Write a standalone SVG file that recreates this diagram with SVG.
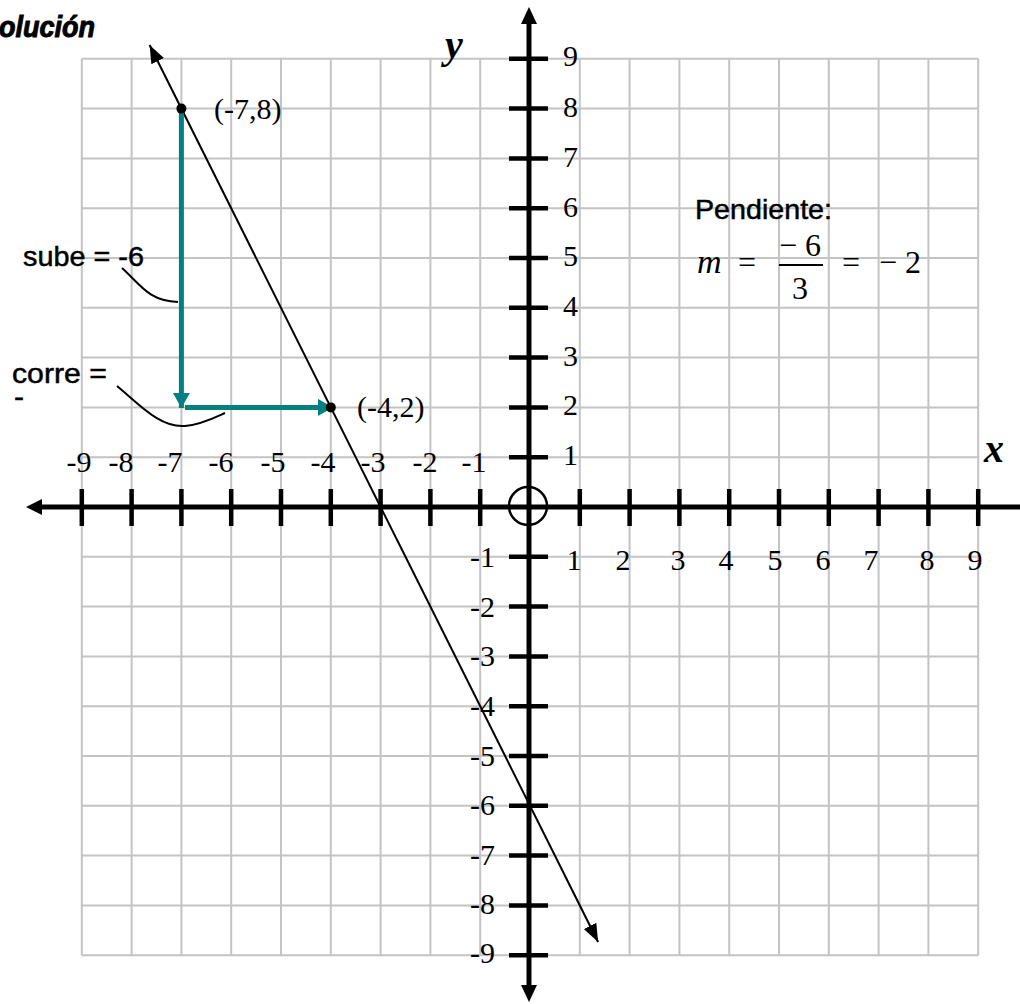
<svg xmlns="http://www.w3.org/2000/svg" width="1020" height="1004" viewBox="0 0 1020 1004">
<style>
.grid{stroke:#c4c4c4;stroke-width:2;fill:none}
.axis{stroke:#000;stroke-width:5;fill:none}
.tick{stroke:#000;stroke-width:4.5}
.num{font-family:"Liberation Serif",serif;font-size:30px;fill:#000}
.lbl{font-family:"Liberation Sans","DejaVu Sans",sans-serif;font-size:28px;fill:#000;stroke:#000;stroke-width:0.5}
.teal{stroke:#008080;stroke-width:5;fill:none}
.thin{stroke:#000;stroke-width:2;fill:none}
</style>
<defs>
<marker id="ab" markerUnits="userSpaceOnUse" markerWidth="20" markerHeight="16" refX="18" refY="7" orient="auto-start-reverse" viewBox="0 0 20 16">
<path d="M0,0 L18,7 L0,14 z" fill="#000"/>
</marker>
<marker id="at" markerUnits="userSpaceOnUse" markerWidth="18" markerHeight="18" refX="15" refY="8.5" orient="auto" viewBox="0 0 18 18">
<path d="M0,0 L15,8.5 L0,17 z" fill="#008080"/>
</marker>
</defs>
<rect width="1020" height="1004" fill="#fff"/>
<g id="grid" class="grid">
<path d="M81.8,58.8V955.2M131.6,58.8V955.2M181.4,58.8V955.2M231.2,58.8V955.2M281,58.8V955.2M330.8,58.8V955.2M380.6,58.8V955.2M430.4,58.8V955.2M480.2,58.8V955.2M530,58.8V955.2M579.8,58.8V955.2M629.6,58.8V955.2M679.4,58.8V955.2M729.2,58.8V955.2M779,58.8V955.2M828.8,58.8V955.2M878.6,58.8V955.2M928.4,58.8V955.2M978.2,58.8V955.2"/>
<path d="M81.8,58.8H978.2M81.8,108.6H978.2M81.8,158.4H978.2M81.8,208.2H978.2M81.8,258H978.2M81.8,307.8H978.2M81.8,357.6H978.2M81.8,407.4H978.2M81.8,457.2H978.2M81.8,507H978.2M81.8,556.8H978.2M81.8,606.6H978.2M81.8,656.4H978.2M81.8,706.2H978.2M81.8,756H978.2M81.8,805.8H978.2M81.8,855.6H978.2M81.8,905.4H978.2M81.8,955.2H978.2"/>
</g>
<g id="x-axis">
<line class="axis" x1="40" y1="507" x2="1020" y2="507"/>
<path d="M26,507 L42,499 L42,515 z" fill="#000"/>
<path class="tick" d="M81.8,489V526M131.6,489V526M181.4,489V526M231.2,489V526M281,489V526M330.8,489V526M380.6,489V526M430.4,489V526M480.2,489V526M579.8,489V526M629.6,489V526M679.4,489V526M729.2,489V526M779,489V526M828.8,489V526M878.6,489V526M928.4,489V526M978.2,489V526"/>
</g>
<g id="y-axis">
<line class="axis" x1="529" y1="20" x2="529" y2="990"/>
<path d="M529,7 L521,24 L537,24 z" fill="#000"/>
<path d="M529,1002 L521,985 L537,985 z" fill="#000"/>
<path class="tick" d="M509,58.8H548M509,108.6H548M509,158.4H548M509,208.2H548M509,258H548M509,307.8H548M509,357.6H548M509,407.4H548M509,457.2H548M509,556.8H548M509,606.6H548M509,656.4H548M509,706.2H548M509,756H548M509,805.8H548M509,855.6H548M509,905.4H548M509,955.2H548"/>
</g>
<g id="origin">
<circle cx="528" cy="506" r="19" fill="none" stroke="#000" stroke-width="2.5"/>
</g>
<g id="x-labels" class="num" text-anchor="middle">
<text x="79" y="472">-9</text><text x="121" y="472">-8</text><text x="170" y="472">-7</text><text x="221" y="472">-6</text><text x="273" y="472">-5</text><text x="323" y="472">-4</text><text x="373" y="472">-3</text><text x="425" y="472">-2</text><text x="474" y="472">-1</text>
<text x="574" y="570">1</text><text x="623" y="570">2</text><text x="678" y="570">3</text><text x="726" y="570">4</text><text x="775" y="570">5</text><text x="823" y="570">6</text><text x="871" y="570">7</text><text x="927" y="570">8</text><text x="975" y="570">9</text>
</g>
<g id="y-labels" class="num">
<text x="563" y="66">9</text><text x="563" y="117">8</text><text x="563" y="167">7</text><text x="563" y="217">6</text><text x="563" y="266">5</text><text x="563" y="316">4</text><text x="563" y="366">3</text><text x="563" y="415">2</text><text x="563" y="465">1</text>
<g text-anchor="end">
<text x="495" y="567">-1</text><text x="495" y="617">-2</text><text x="495" y="666">-3</text><text x="495" y="716">-4</text><text x="495" y="766">-5</text><text x="495" y="815">-6</text><text x="495" y="865">-7</text><text x="495" y="914">-8</text><text x="495" y="963">-9</text>
</g>
</g>
<g id="axis-names" font-family="Liberation Serif,serif" font-style="italic" font-weight="bold" font-size="40">
<text x="445" y="58">y</text>
<text x="984" y="462">x</text>
</g>
<g id="connectors">
<line class="thin" x1="149.6" y1="45" x2="598.1" y2="942" marker-start="url(#ab)" marker-end="url(#ab)"/>
<line class="teal" x1="181.4" y1="108.6" x2="181.4" y2="408" marker-end="url(#at)"/>
<line class="teal" x1="185" y1="407.4" x2="333" y2="407.4" marker-end="url(#at)"/>
<path class="thin" d="M122,268 C140,284 148,301 178,302"/>
<path class="thin" d="M117,386 C140,405 160,428 185,426 C200,425 214,418 225,413"/>
</g>
<g id="point-a">
<circle cx="181.4" cy="108.6" r="5" fill="#000"/>
<text class="num" x="214" y="119">(-7,8)</text>
</g>
<g id="point-b">
<circle cx="330.8" cy="407.4" r="5" fill="#000"/>
<text class="num" x="357" y="417">(-4,2)</text>
</g>
<g id="title">
<text x="-1" y="37" font-family="Liberation Sans,sans-serif" font-style="italic" font-weight="bold" font-size="30" stroke="#000" stroke-width="1" textLength="96" lengthAdjust="spacingAndGlyphs">olución</text>
</g>
<g id="sube-label">
<text class="lbl" x="23" y="266" textLength="121" lengthAdjust="spacingAndGlyphs">sube = -6</text>
</g>
<g id="corre-label">
<text class="lbl" x="12" y="383" textLength="95" lengthAdjust="spacingAndGlyphs">corre =</text>
<text class="lbl" x="14" y="406" font-size="10" stroke-width="3.5" textLength="10" lengthAdjust="spacingAndGlyphs">-</text>
</g>
<g id="slope">
<text class="lbl" x="695" y="219" textLength="137" lengthAdjust="spacingAndGlyphs">Pendiente:</text>
<g class="num">
<text x="697" y="273" font-style="italic" font-size="34">m</text>
<text x="738" y="273" font-size="32">=</text>
<text x="779" y="256" font-size="32">− 6</text>
<line x1="779" y1="265" x2="823" y2="265" stroke="#000" stroke-width="2"/>
<text x="792" y="299" font-size="32">3</text>
<text x="842" y="273" font-size="32">=</text>
<text x="879" y="273" font-size="32">− 2</text>
</g>
</g>
</svg>
